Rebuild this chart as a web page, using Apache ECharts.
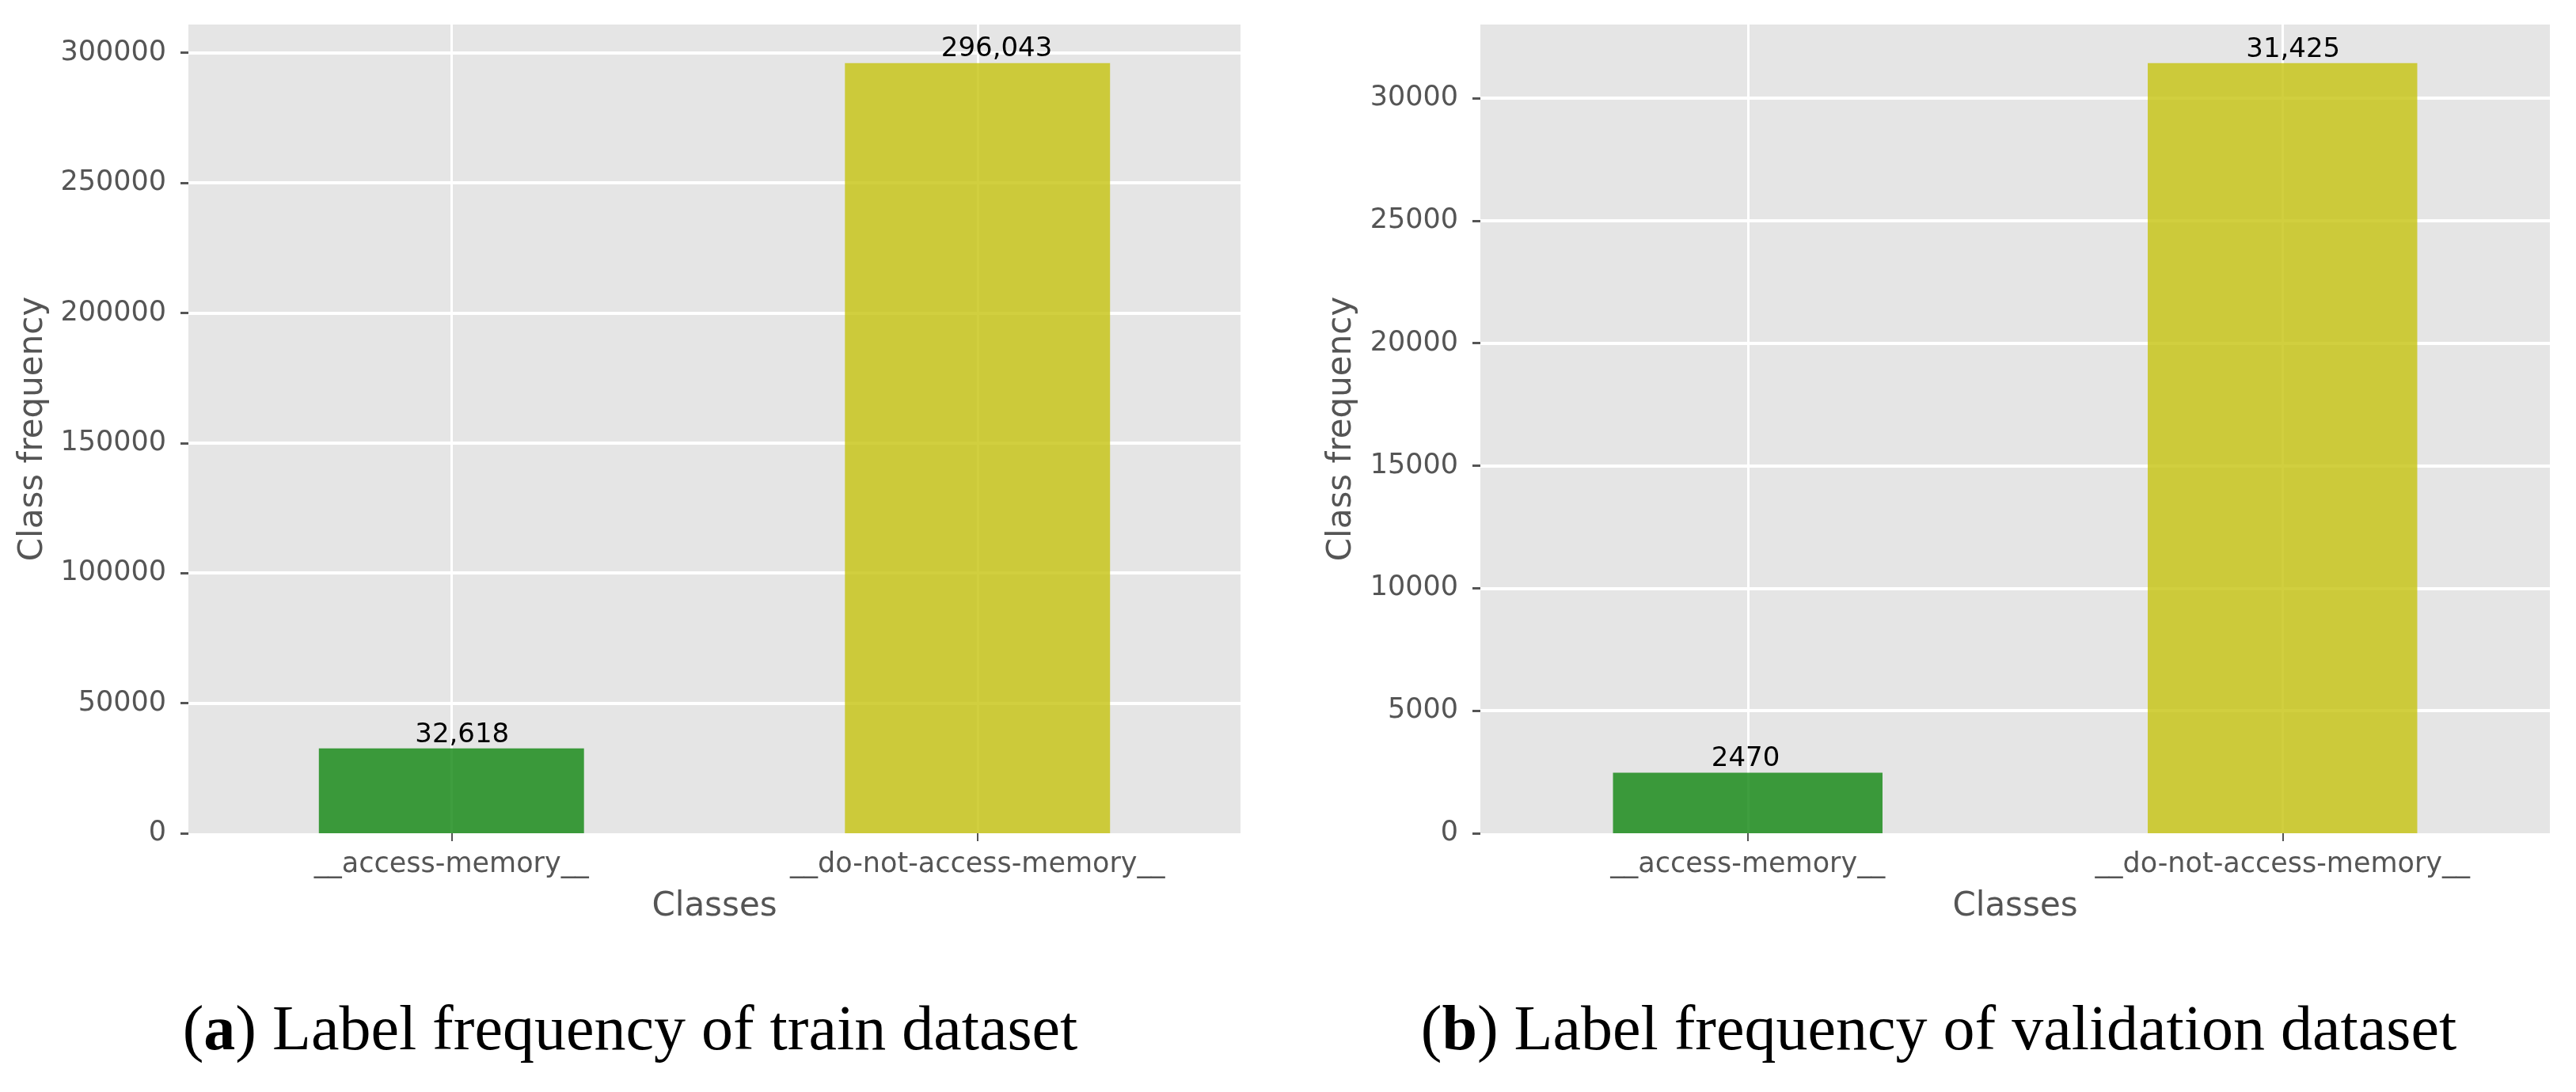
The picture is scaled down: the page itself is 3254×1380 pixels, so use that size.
<!DOCTYPE html>
<html>
<head>
<meta charset="utf-8">
<script src="https://cdn.jsdelivr.net/npm/echarts@6/dist/echarts.min.js"></script>
<style>
html,body{margin:0;padding:0;background:#fff;}
#chart{width:3254px;height:1380px;}
</style>
</head>
<body>
<div id="chart"></div>
<script>
const categories = ['__access-memory__', '__do-not-access-memory__'];
const trainValues = [32618, 296043];
const valValues = [2470, 31425];
const trainLabels = ['32,618', '296,043'];
const valLabels = ['2470', '31,425'];
const trainYMax = 310845;
const valYMax = 33000;
const trainTickStep = 50000;
const valTickStep = 5000;
const xAxisName = 'Classes';
const yAxisName = 'Class frequency';
const captionLetters = ['a', 'b'];
const captionTexts = [' Label frequency of train dataset', ' Label frequency of validation dataset'];
const barColors = ['rgba(15,134,15,0.8)', 'rgba(197,195,15,0.8)'];

const chart = echarts.init(document.getElementById('chart'));
const sans = 'DejaVu Sans';
const serif = 'Liberation Serif';

const grids = [
  {left: 238, right: 3254 - 1567, top: 31, bottom: 1380 - 1053},
  {left: 1870, right: 3254 - 3221, top: 31, bottom: 1380 - 1053}
];

function xAxis(i) {
  return {
    type: 'category', gridIndex: i, data: categories,
    axisLine: {show: false},
    axisTick: {show: true, alignWithLabel: true, length: 10, lineStyle: {color: '#555', width: 2}},
    axisLabel: {color: '#555', fontFamily: sans, fontSize: 35, margin: 22},
    splitLine: {show: false},
    name: xAxisName, nameLocation: 'middle', nameGap: 72,
    nameTextStyle: {color: '#555', fontFamily: sans, fontSize: 42}
  };
}
function yAxis(i, max, step, gap) {
  return {
    type: 'value', gridIndex: i, min: 0, max: max, interval: step,
    axisLine: {show: false},
    axisTick: {show: true, length: 10, lineStyle: {color: '#555', width: 3}},
    axisLabel: {color: '#555', fontFamily: sans, fontSize: 35, margin: 28, showMaxLabel: false,
      formatter: v => (v % step === 0 ? String(v) : '')},
    splitLine: {show: true, showMinLine: false, showMaxLine: false, lineStyle: {color: '#fff', width: 4}},
    name: yAxisName, nameLocation: 'middle', nameGap: gap, nameRotate: 90,
    nameTextStyle: {color: '#555', fontFamily: sans, fontSize: 42}
  };
}
function vGrid(i) {
  return {
    type: 'line', xAxisIndex: i, yAxisIndex: i, data: [], z: 1, silent: true,
    markLine: {
      z: 1, silent: true, symbol: 'none', animation: false,
      label: {show: false},
      lineStyle: {color: '#fff', width: 3, type: 'solid'},
      emphasis: {disabled: true},
      data: categories.map(c => ({xAxis: c}))
    }
  };
}
function bars(i, values, labels) {
  return {
    type: 'bar', xAxisIndex: i, yAxisIndex: i, z: 3, barWidth: '50.4%',
    data: values.map((v, k) => ({value: v, itemStyle: {color: barColors[k]}})),
    label: {
      show: true, position: 'top', distance: 0, align: 'left', offset: [-46, 0],
      color: '#000', fontFamily: sans, fontSize: 34,
      formatter: p => labels[p.dataIndex]
    }
  };
}

const captionX = [796, 2449];
const graphic = captionTexts.map((t, i) => ({
  type: 'text', x: captionX[i], y: 1305,
  style: {
    text: '(' + '{b|' + captionLetters[i] + '})' + t,
    fill: '#000', font: '80px "' + serif + '"',
    align: 'center', verticalAlign: 'middle',
    textAlign: 'center', textVerticalAlign: 'middle',
    rich: {b: {fontWeight: 'bold', fontSize: 80, fontFamily: serif, fill: '#000'}}
  }
}));

chart.setOption({
  animation: false,
  backgroundColor: '#fff',
  grid: grids.map(g => Object.assign({show: true, backgroundColor: '#E5E5E5', borderWidth: 0}, g)),
  xAxis: [xAxis(0), xAxis(1)],
  yAxis: [yAxis(0, trainYMax, trainTickStep, 175), yAxis(1, valYMax, valTickStep, 154)],
  series: [vGrid(0), bars(0, trainValues, trainLabels), vGrid(1), bars(1, valValues, valLabels)],
  graphic: graphic
});
</script>
</body>
</html>
